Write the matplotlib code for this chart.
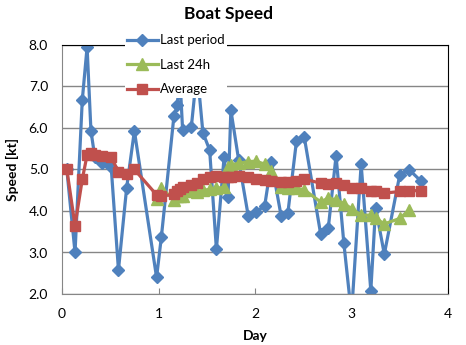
import numpy as np
import matplotlib
matplotlib.use("Agg")
import matplotlib.pyplot as plt

plt.rcParams['font.family'] = ['Lato', 'DejaVu Sans']

# sample times (days) shared by the three series
day = [0.05, 0.135, 0.21, 0.26, 0.30, 0.34, 0.41, 0.51, 0.585, 0.67, 0.75,
       0.98, 1.03, 1.16, 1.195, 1.22, 1.25, 1.34, 1.40, 1.46, 1.53, 1.60, 1.68, 1.72, 1.75, 1.83, 1.93,
       2.01, 2.10, 2.17, 2.27, 2.34, 2.43, 2.51, 2.68, 2.76, 2.84, 2.92, 3.00,
       3.10, 3.20, 3.25, 3.34, 3.50, 3.60, 3.72]

last_period = [5.00, 3.00, 6.67, 7.95, 5.93, 5.30, 5.15, 5.05, 2.58, 4.56, 5.93,
               2.40, 3.38, 6.29, 6.55, 7.30, 5.95, 6.02, 7.40, 5.89, 5.47, 3.08, 5.31, 4.33, 6.43, 5.24, 3.88,
               3.98, 4.12, 5.18, 3.89, 3.94, 5.69, 5.79, 3.45, 3.60, 5.33, 3.24, 1.50,
               5.13, 2.08, 4.08, 2.96, 4.87, 4.99, 4.72]

last_24h = [np.nan] * 11 + \
           [4.30, 4.55, 4.27, 4.35, 4.36, 4.36, 4.47, 4.45, 4.50, 4.52, 4.55, 4.57, 5.07, 5.11, 5.15, 5.19,
            5.20, 5.13, 4.97, 4.57, 4.55, 4.55, 4.51, 4.22, 4.31, 4.27, 4.18, 4.06,
            3.90, 3.90, 3.82, 3.69, 3.82, 4.03, np.nan]

average = [5.00, 3.65, 4.76, 5.35, 5.40, 5.35, 5.33, 5.29, 4.95, 4.88, 5.00,
           4.39, 4.36, 4.40, 4.47, 4.52, 4.57, 4.63, 4.68, 4.78, 4.83, 4.84, 4.82, 4.81, 4.82, 4.84, 4.81,
           4.77, 4.75, 4.73, 4.71, 4.70, 4.73, 4.77, 4.67, 4.65, 4.67, 4.63, 4.55,
           4.55, 4.49, 4.49, 4.43, 4.47, 4.49, 4.49]

yticks = [2.0, 3.0, 4.0, 5.0, 6.0, 7.0, 8.0]
xticks = [0, 1, 2, 3, 4]

fig = plt.figure(figsize=(4.66, 3.45), dpi=100)
ax = fig.add_axes([62/466, 1 - 294/345, (448-62)/466, (294-45)/345])

ax.plot(day, last_period, color='#4F81BD', lw=2.3, marker='D', ms=6.5,
        label='Last period', zorder=2)
ax.plot(day, last_24h, color='#9BBB59', lw=2.3, marker='^', ms=8,
        label='Last 24h', zorder=3)
ax.plot(day, average, color='#C0504D', lw=2.3, marker='s', ms=7.5,
        label='Average', zorder=4)

ax.set_xlim(0, 4)
ax.set_ylim(2, 8)
ax.set_yticks(yticks)
ax.set_yticklabels(['%.1f' % v for v in yticks])
ax.set_xticks(xticks)
ax.yaxis.grid(True, color='#868686', lw=1)
ax.set_axisbelow(True)

for s in ['left', 'bottom']:
    ax.spines[s].set_color('#868686')
for s in ['top', 'right']:
    ax.spines[s].set_color('black')
ax.tick_params(axis='y', length=0, pad=10, labelsize=10, colors='black')
ax.tick_params(axis='x', direction='in', length=4, color='#868686', pad=10, labelsize=10)

ax.set_xlabel('Day', fontweight='bold', fontsize=10, labelpad=7)
ax.set_ylabel('Speed [kt]', fontweight='bold', fontsize=10, labelpad=7)
fig.suptitle('Boat Speed', fontweight='bold', fontsize=12.5, x=229/466, y=1 - 6/345, va='top')

leg = ax.legend(loc='upper left', bbox_to_anchor=(118/466, 1 - 25/345), bbox_transform=fig.transFigure,
                fontsize=9.5, numpoints=1, handlelength=2.3, handletextpad=0.15,
                labelspacing=0.95, borderpad=0.2, fancybox=False)
leg.get_frame().set_facecolor('white')
leg.get_frame().set_edgecolor('none')
leg.get_frame().set_alpha(1)
leg.set_zorder(10)

fig.savefig('out.png', dpi=100)
